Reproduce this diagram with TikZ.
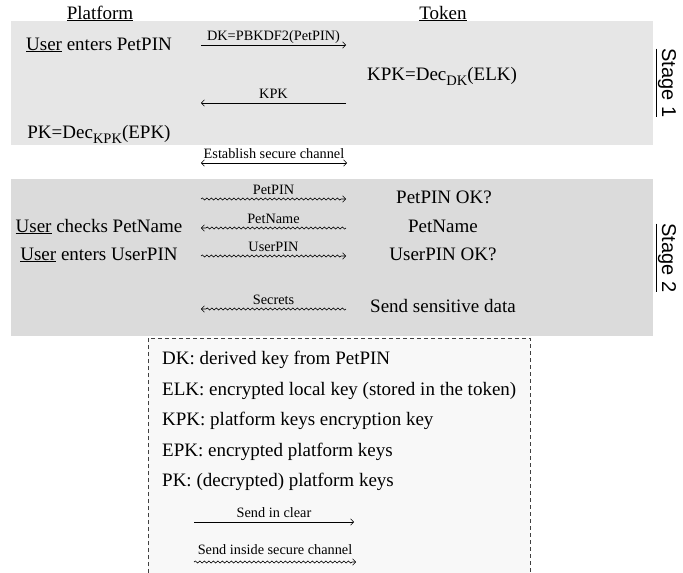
\documentclass[tikz,border=0pt]{standalone}
\usepackage{fontspec}
\setmainfont{Liberation Serif}
\newfontfamily\serifmain{Liberation Serif}
\newfontfamily\stagefont{Liberation Sans}
\usetikzlibrary{arrows.meta,decorations.pathmorphing,calc}

\definecolor{stageone}{RGB}{230,230,230}
\definecolor{stagetwo}{RGB}{219,219,219}
\definecolor{legendbg}{RGB}{248,248,248}

\newcommand\txtfont{\serifmain\fontsize{19}{23}\selectfont}
\newcommand\lblfont{\serifmain\fontsize{14.3}{17}\selectfont}
\newcommand\subtxt[1]{\raisebox{-0.3em}{\fontsize{14.5}{16}\selectfont #1}}

\begin{document}
\begin{tikzpicture}[x=1pt,y=-1pt,
  txt/.style={font=\txtfont, anchor=base, inner sep=0pt},
  lgd/.style={font=\txtfont, anchor=base west, inner sep=0pt},
  lbl/.style={font=\lblfont, anchor=base, inner sep=0pt, yshift=5pt},
  stagelbl/.style={font=\stagefont\fontsize{20}{24}\selectfont, rotate=-90, inner sep=0pt},
  msg/.style={line width=0.6pt, -{Straight Barb[length=3pt,width=6.5pt]}},
  bimsg/.style={line width=0.6pt, {Straight Barb[length=3pt,width=6.5pt]}-{Straight Barb[length=3pt,width=6.5pt]}},
  secure/.style={msg, decorate, decoration={snake, amplitude=1pt, segment length=4.5pt, post length=3pt}}]
\useasboundingbox (0,0) rectangle (683,573);

% stage backgrounds
\fill[stageone] (11,21) rectangle (653,145);
\fill[stagetwo] (11,179) rectangle (653,336);

% legend frame, open at the bottom
\fill[legendbg] (148,338) rectangle (530,573);
\draw[black!75, line width=0.6pt, dash pattern=on 4pt off 3pt]
  (148,573) -- (148,338) -- (530,338) -- (530,573);

% column headings
\node[txt] (hplat) at (100,19) {\underline{Platform}};
\node[txt] (htok) at (443,19) {\underline{Token}};

% stage 1
\node[txt] (p1) at (99,50) {\underline{User} enters PetPIN};
\node[txt] (t1) at (442,80) {KPK=Dec\subtxt{DK}(ELK)};
\node[txt] (p2) at (99,138) {PK=Dec\subtxt{KPK}(EPK)};

\coordinate (a1l) at (201,45);  \coordinate (a1r) at (346,45);
\coordinate (a2l) at (201,103); \coordinate (a2r) at (346,103);
\draw[msg] (a1l) -- node[lbl] (l1) {DK=PBKDF2(PetPIN)} (a1r);
\draw[msg] (a2r) -- node[lbl] (l2) {KPK} (a2l);

% secure channel set-up
\coordinate (a3l) at (201,163); \coordinate (a3r) at (347,163);
\draw[bimsg] (a3l) -- node[lbl] (l3) {Establish secure channel} (a3r);

% stage 2
\node[txt] (t2) at (444,203) {PetPIN OK?};
\node[txt] (p3) at (99,232) {\underline{User} checks PetName};
\node[txt] (t3) at (443,232) {PetName};
\node[txt] (p4) at (99,260) {\underline{User} enters UserPIN};
\node[txt] (t4) at (443,260) {UserPIN OK?};
\node[txt] (t5) at (443,312) {Send sensitive data};

\coordinate (b1l) at (201,199); \coordinate (b1r) at (346,199);
\coordinate (b2l) at (201,228); \coordinate (b2r) at (346,228);
\coordinate (b3l) at (201,256); \coordinate (b3r) at (346,256);
\coordinate (b4l) at (201,309); \coordinate (b4r) at (346,309);
\draw[secure] (b1l) -- (b1r);
\node[lbl] (m1) at ($(b1l)!0.5!(b1r)$) {PetPIN};
\draw[secure] (b2r) -- (b2l);
\node[lbl] (m2) at ($(b2l)!0.5!(b2r)$) {PetName};
\draw[secure] (b3l) -- (b3r);
\node[lbl] (m3) at ($(b3l)!0.5!(b3r)$) {UserPIN};
\draw[secure] (b4r) -- (b4l);
\node[lbl] (m4) at ($(b4l)!0.5!(b4r)$) {Secrets};

% stage labels
\node[stagelbl] (s1) at (666,83) {\underline{Stage 1}};
\node[stagelbl] (s2) at (666,258) {\underline{Stage 2}};

% legend
\node[lgd] (g1) at (162,364) {DK: derived key from PetPIN};
\node[lgd] (g2) at (162,395) {ELK: encrypted local key (stored in the token)};
\node[lgd] (g3) at (162,425) {KPK: platform keys encryption key};
\node[lgd] (g4) at (162,456) {EPK: encrypted platform keys};
\node[lgd] (g5) at (162,486) {PK: (decrypted) platform keys};

\coordinate (c1l) at (194,522); \coordinate (c1r) at (354,522);
\coordinate (c2l) at (194,562); \coordinate (c2r) at (356,562);
\draw[msg] (c1l) -- node[lbl] (k1) {Send in clear} (c1r);
\draw[secure] (c2l) -- (c2r);
\node[lbl] (k2) at ($(c2l)!0.5!(c2r)+(0,-3)$) {Send inside secure channel};
\end{tikzpicture}
\end{document}
